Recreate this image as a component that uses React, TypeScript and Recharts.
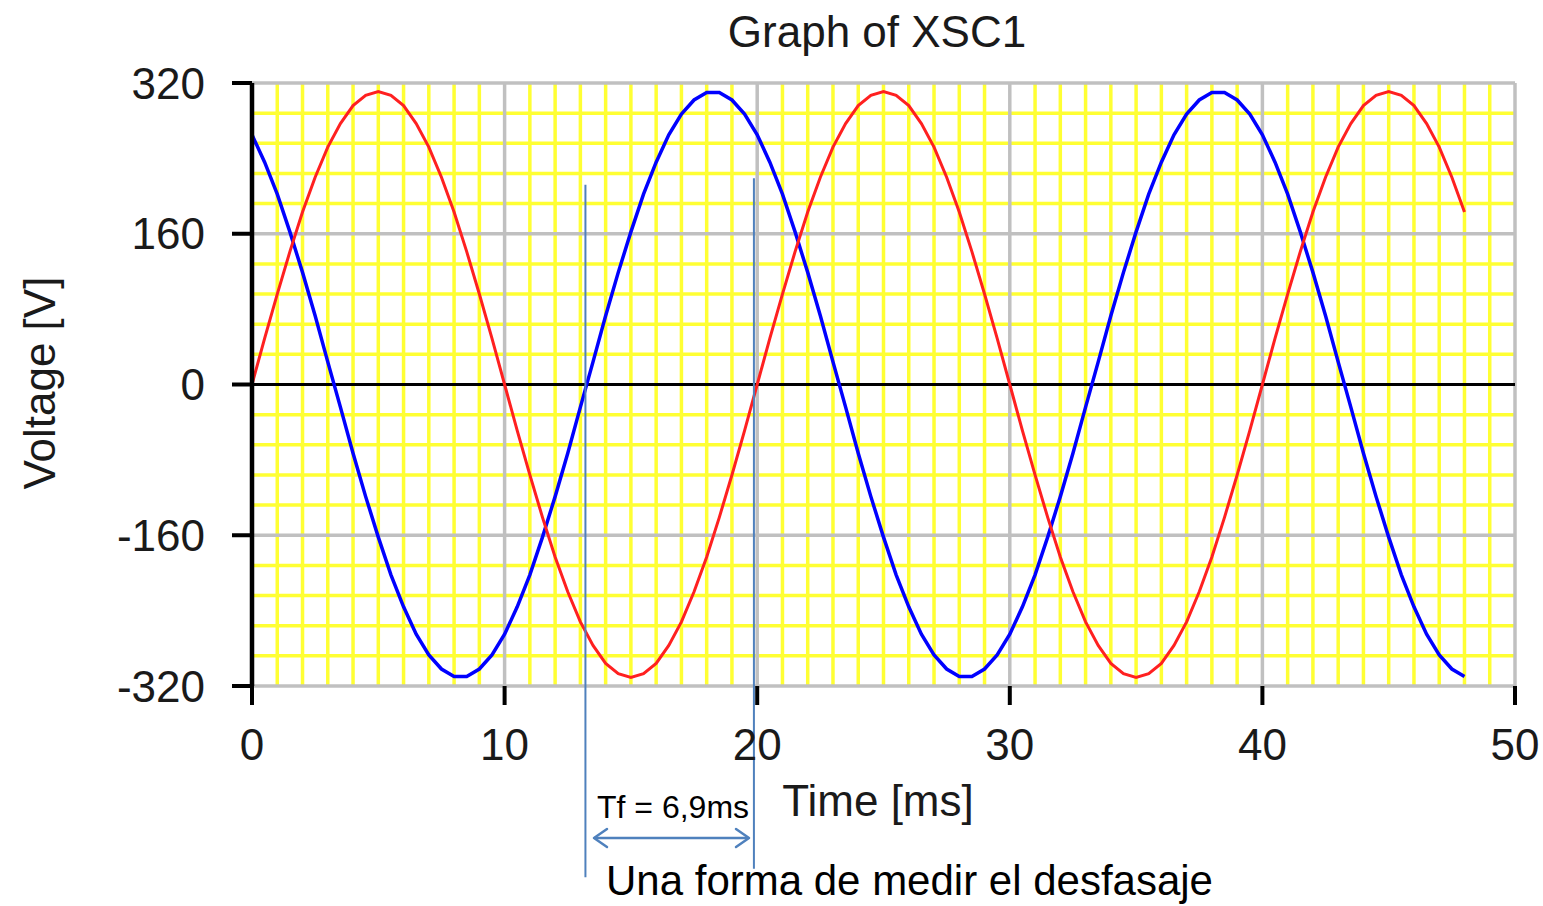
import React from 'react'
import { LineChart, Line, XAxis, YAxis, CartesianGrid, ReferenceLine } from 'recharts'

document.body.style.margin = '0'
document.body.style.overflow = 'hidden'

// time in ms, sampled every 0.5 ms
const timeMs = [
  0, 0.5, 1, 1.5, 2, 2.5, 3, 3.5, 4, 4.5, 5, 5.5, 6, 6.5, 7, 7.5, 8, 8.5, 9, 9.5,
  10, 10.5, 11, 11.5, 12, 12.5, 13, 13.5, 14, 14.5, 15, 15.5, 16, 16.5, 17, 17.5, 18, 18.5, 19, 19.5,
  20, 20.5, 21, 21.5, 22, 22.5, 23, 23.5, 24, 24.5, 25, 25.5, 26, 26.5, 27, 27.5, 28, 28.5, 29, 29.5,
  30, 30.5, 31, 31.5, 32, 32.5, 33, 33.5, 34, 34.5, 35, 35.5, 36, 36.5, 37, 37.5, 38, 38.5, 39, 39.5,
  40, 40.5, 41, 41.5, 42, 42.5, 43, 43.5, 44, 44.5, 45, 45.5, 46, 46.5, 47, 47.5, 48
]

// red trace (V)
const redV = [
  0, 49, 96, 141, 183, 220, 252, 277, 296, 307, 311, 307, 296, 277, 252, 220, 183, 141, 96, 49,
  0, -49, -96, -141, -183, -220, -252, -277, -296, -307, -311, -307, -296, -277, -252, -220, -183, -141, -96, -49,
  0, 49, 96, 141, 183, 220, 252, 277, 296, 307, 311, 307, 296, 277, 252, 220, 183, 141, 96, 49,
  0, -49, -96, -141, -183, -220, -252, -277, -296, -307, -311, -307, -296, -277, -252, -220, -183, -141, -96, -49,
  0, 49, 96, 141, 183, 220, 252, 277, 296, 307, 311, 307, 296, 277, 252, 220, 183
]

// blue trace (V)
const blueV = [
  265, 236, 202, 162, 119, 73, 24, -24, -73, -119, -162, -202, -236, -265, -287, -302, -310, -310, -302, -287,
  -265, -236, -202, -162, -119, -73, -24, 24, 73, 119, 162, 202, 236, 265, 287, 302, 310, 310, 302, 287,
  265, 236, 202, 162, 119, 73, 24, -24, -73, -119, -162, -202, -236, -265, -287, -302, -310, -310, -302, -287,
  -265, -236, -202, -162, -119, -73, -24, 24, 73, 119, 162, 202, 236, 265, 287, 302, 310, 310, 302, 287,
  265, 236, 202, 162, 119, 73, 24, -24, -73, -119, -162, -202, -236, -265, -287, -302, -310
]

const xTicks = [0, 10, 20, 30, 40, 50]
const yTicks = [-320, -160, 0, 160, 320]
const minorX = [
  1, 2, 3, 4, 5, 6, 7, 8, 9, 11, 12, 13, 14, 15, 16, 17, 18, 19, 21, 22, 23, 24, 25, 26, 27, 28, 29,
  31, 32, 33, 34, 35, 36, 37, 38, 39, 41, 42, 43, 44, 45, 46, 47, 48, 49
]
const minorY = [-288, -256, -224, -192, -128, -96, -64, -32, 32, 64, 96, 128, 192, 224, 256, 288]
const majorX = [10, 20, 30, 40, 50]
const majorY = [-320, -160, 160, 320]

// phase measurement markers
const markA = { t: 13.2, top: 212, bottom: -523 }
const markB = { t: 19.87, top: 219, bottom: -514 }

const data = timeMs.map((t, i) => ({ t, red: redV[i], blue: blueV[i] }))

const FONT = '"Liberation Sans", Arial, sans-serif'
const ANNO = '#4f81bd'

export default function App() {
  const tickStyle = { fontSize: 44, fill: '#1a1a1a', fontFamily: FONT }
  const yellow = { stroke: '#ffff33', strokeWidth: 3.5 }
  const gray = { stroke: '#c0c0c0', strokeWidth: 3.5 }
  return (
    <div style={{ position: 'relative', width: 1543, height: 906, background: '#fff' }}>
      <LineChart width={1543} height={906} data={data} margin={{ top: 83, right: 28, bottom: 120, left: 0 }}>
        <CartesianGrid {...yellow} horizontal={yellow} vertical={yellow} verticalValues={minorX} horizontalValues={minorY} />
        <CartesianGrid {...gray} horizontal={gray} vertical={gray} verticalValues={majorX} horizontalValues={majorY} />
        <CartesianGrid
          stroke="#000"
          strokeWidth={3}
          horizontal={{ stroke: '#000', strokeWidth: 3 }}
          vertical={false}
          horizontalValues={[0]}
        />
        <XAxis
          dataKey="t"
          type="number"
          domain={[0, 50]}
          ticks={xTicks}
          interval={0}
          height={100}
          axisLine={false}
          tickLine={{ stroke: '#000', strokeWidth: 4 }}
          tickSize={19}
          tickMargin={24}
          tick={tickStyle}
        />
        <YAxis
          type="number"
          domain={[-320, 320]}
          ticks={yTicks}
          interval={0}
          width={252}
          axisLine={{ stroke: '#000', strokeWidth: 4.5 }}
          tickLine={{ stroke: '#000', strokeWidth: 4 }}
          tickSize={20}
          tickMargin={27}
          tick={tickStyle}
        />
        <Line type="linear" dataKey="blue" stroke="#0000ff" strokeWidth={3.5} dot={false} isAnimationActive={false} />
        <Line type="linear" dataKey="red" stroke="#ff2020" strokeWidth={3} dot={false} isAnimationActive={false} />
        <ReferenceLine
          segment={[{ x: markA.t, y: markA.top }, { x: markA.t, y: markA.bottom }]}
          stroke={ANNO}
          strokeWidth={2}
          ifOverflow="visible"
        />
        <ReferenceLine
          segment={[{ x: markB.t, y: markB.top }, { x: markB.t, y: markB.bottom }]}
          stroke={ANNO}
          strokeWidth={2}
          ifOverflow="visible"
        />
      </LineChart>
      <svg width={1543} height={906} style={{ position: 'absolute', left: 0, top: 0, pointerEvents: 'none' }}>
        <text x={877} y={47} textAnchor="middle" fontSize={44} fill="#1a1a1a" fontFamily={FONT}>
          Graph of XSC1
        </text>
        <text x={55} y={383} transform="rotate(-90 55 383)" textAnchor="middle" fontSize={44} fill="#1a1a1a" fontFamily={FONT}>
          Voltage [V]
        </text>
        <text x={878} y={816} textAnchor="middle" fontSize={44} fill="#1a1a1a" fontFamily={FONT}>
          Time [ms]
        </text>
        <text x={597} y={818} fontSize={32} fill="#000" fontFamily={FONT}>
          Tf = 6,9ms
        </text>
        <g stroke={ANNO} strokeWidth={2.5} fill="none" strokeLinecap="round" strokeLinejoin="round">
          <line x1={595} y1={838} x2={748} y2={838} />
          <polyline points="607,829 594,838 607,847" />
          <polyline points="736,829 749,838 736,847" />
        </g>
        <text x={606} y={895} fontSize={42} fill="#000" fontFamily={FONT}>
          Una forma de medir el desfasaje
        </text>
      </svg>
    </div>
  )
}
